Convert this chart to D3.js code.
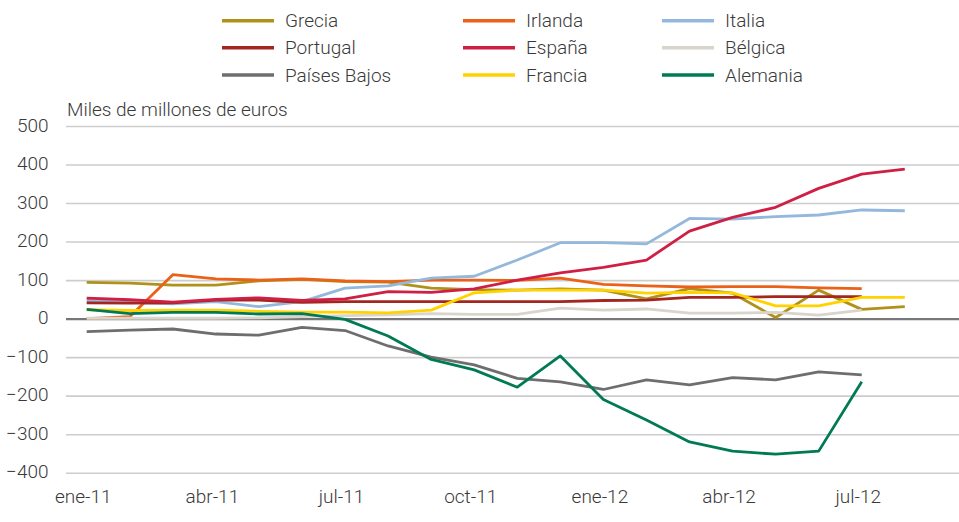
<!DOCTYPE html>
<html>
<head>
<meta charset="utf-8">
<script src="https://cdn.jsdelivr.net/npm/d3@7/dist/d3.min.js"></script>
<style>
  html, body { margin: 0; padding: 0; background: #ffffff; }
  svg { display: block; font-family: Roboto, "Open Sans", sans-serif; font-weight: 300; }
</style>
</head>
<body>
<svg id="chart" width="959" height="522"></svg>
<script>
const months = ["ene-11","feb-11","mar-11","abr-11","may-11","jun-11","jul-11","ago-11","sep-11","oct-11","nov-11","dic-11",
                "ene-12","feb-12","mar-12","abr-12","may-12","jun-12","jul-12","ago-12"];
const tickIdx = [0, 3, 6, 9, 12, 15, 18];
const yTicks = [-400, -300, -200, -100, 0, 100, 200, 300, 400, 500];

const grecia   = [94, 92, 87, 87, 98, 102, 96, 95, 79, 75, 74, 77, 74, 51, 78, 66, 3, 74, 24, 31];
const irlanda  = [0, 5, 114, 103, 100, 103, 98, 96, 100, 100, 99, 105, 89, 85, 82, 83, 83, 80, 78, null];
const italia   = [47, 42, 38, 44, 31, 44, 79, 85, 105, 110, 152, 197, 197, 194, 260, 258, 265, 269, 282, 280];
const portugal = [41, 40, 41, 48, 48, 42, 44, 44, 44, 44, 44, 44, 47, 48, 55, 55, 57, 57, 57, null];
const espana   = [53, 49, 43, 50, 54, 47, 51, 70, 68, 77, 100, 119, 133, 152, 227, 263, 289, 338, 375, 388];
const belgica  = [1, 1, 1, 1, 2, 5, 8, 10, 13, 11, 11, 27, 22, 25, 14, 14, 16, 9, 22, null];
const paises   = [-34, -30, -27, -40, -43, -23, -31, -71, -100, -120, -155, -164, -184, -159, -172, -153, -159, -138, -146, null];
const francia  = [23, 21, 22, 22, 19, 17, 17, 15, 22, 67, 74, 74, 74, 66, 68, 67, 33, 33, 55, 55];
const alemania = [24, 13, 16, 16, 12, 13, -2, -45, -106, -133, -178, -97, -210, -263, -320, -344, -352, -344, -164, null];

const seriesNames = ["Grecia","Irlanda","Italia","Portugal","España","Bélgica","Países Bajos","Francia","Alemania"];
const seriesData  = [grecia, irlanda, italia, portugal, espana, belgica, paises, francia, alemania];
const seriesColors = ["#b0911a","#eb6118","#94b8dc","#a3261f","#cf1f45","#d9d4cc","#6e6e6e","#ffd200","#007a55"];

const svg = d3.select("#chart");
const textColor = "#3a3a3a";
const fontSize = "19px";

const x = d3.scaleLinear().domain([0, months.length - 1]).range([86.7, 904.8]);
const y = d3.scaleLinear().domain([-400, 500]).range([472.7, 126]);

const left = 66, right = 959;

// Y axis with gridlines
const yAxis = svg.append("g")
  .attr("transform", `translate(${left},0)`)
  .call(d3.axisLeft(y).tickValues(yTicks).tickSize(-(right - left)).tickPadding(17.5).tickFormat(d3.format("d")));
yAxis.select(".domain").remove();
yAxis.selectAll(".tick line")
  .attr("stroke", d => d === 0 ? "#777777" : "#cdcdcd")
  .attr("stroke-width", d => d === 0 ? 2.4 : 1.6);
yAxis.selectAll(".tick text")
  .attr("fill", textColor)
  .attr("dy", "0.27em")
  .style("font-size", fontSize)
  .style("font-family", "Roboto, sans-serif")
  .style("font-weight", 300);

// X axis labels
const xAxis = svg.append("g")
  .attr("transform", `translate(-4,0)`)
  .call(d3.axisBottom(x).tickValues(tickIdx).tickSize(0).tickFormat(i => months[i]));
xAxis.select(".domain").remove();
xAxis.selectAll(".tick text")
  .attr("y", 503.3)
  .attr("dy", null)
  .attr("fill", textColor)
  .style("font-size", fontSize)
  .style("font-family", "Roboto, sans-serif")
  .style("font-weight", 300);

// Title
svg.append("text")
  .attr("x", 67)
  .attr("y", 115.5)
  .attr("fill", textColor)
  .style("font-size", fontSize)
  .text("Miles de millones de euros");

// Lines
const line = d3.line()
  .defined(d => d != null)
  .x((d, i) => x(i))
  .y(d => y(d));

svg.append("g")
  .selectAll("path")
  .data(seriesData)
  .join("path")
  .attr("fill", "none")
  .attr("stroke", (d, i) => seriesColors[i])
  .attr("stroke-width", 2.8)
  .attr("stroke-linejoin", "round")
  .attr("d", d => line(d));

// Legend
const colSwatchX = [222, 463, 662];
const rowY = [20.7, 47.7, 75];
const legend = svg.append("g");
seriesNames.forEach((name, i) => {
  const c = i % 3, r = Math.floor(i / 3);
  const g = legend.append("g").attr("transform", `translate(${colSwatchX[c]},${rowY[r]})`);
  g.append("line").attr("x1", 0).attr("x2", 52).attr("y1", 0).attr("y2", 0)
    .attr("stroke", seriesColors[i]).attr("stroke-width", 3.5);
  g.append("text").attr("x", 63).attr("y", 6.6)
    .attr("fill", textColor).style("font-size", fontSize).text(name);
});
</script>
</body>
</html>
